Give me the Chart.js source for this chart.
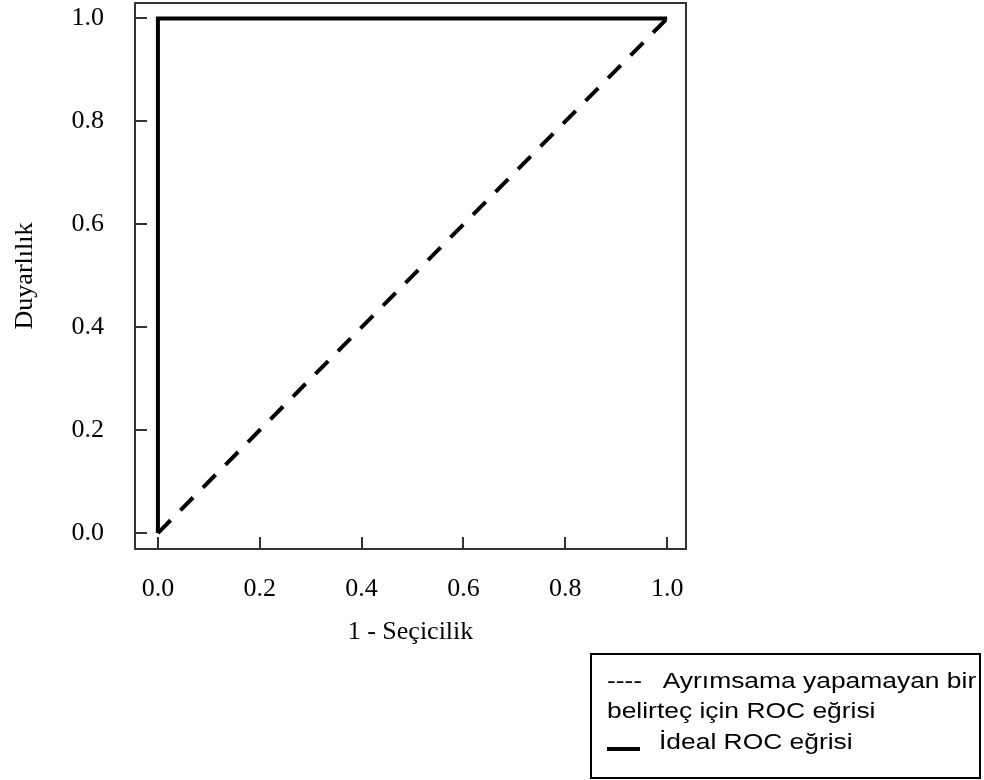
<!DOCTYPE html>
<html>
<head>
<meta charset="utf-8">
<script src="https://cdn.jsdelivr.net/npm/chart.js@4"></script>
<style>
  html, body { margin: 0; padding: 0; background: #fff; }
  #wrap { position: relative; width: 984px; height: 780px; }
  #roc { position: absolute; left: 0; top: 0; }
  .legend-box {
    position: absolute; left: 590px; top: 653px; width: 391px; height: 126px;
    border: 2px solid #000; box-sizing: border-box;
  }
  .legend-line {
    position: absolute; font-family: "Liberation Sans", Arial, sans-serif;
    font-size: 22px; line-height: 22px; color: #000; white-space: pre;
    transform: scaleX(1.2); transform-origin: left center;
  }
  .legend-bar { position: absolute; left: 607px; top: 747px; width: 33px; height: 4px; background: #000; }
</style>
</head>
<body>
<div id="wrap">
  <canvas id="roc" width="984" height="780"></canvas>
  <div class="legend-box"></div>
  <div class="legend-line" style="left:607px; top:670px;">----   Ayrımsama yapamayan bir</div>
  <div class="legend-line" style="left:607px; top:700px;">belirteç için ROC eğrisi</div>
  <div class="legend-bar"></div>
  <div class="legend-line" style="left:659px; top:731px;">İdeal ROC eğrisi</div>
</div>
<script>
// ROC curves: the ideal classifier and the useless (chance) one
var chanceX = [0, 1];
var chanceY = [0, 1];
var idealX = [0, 0, 1];
var idealY = [0, 1, 1];
var tickValues = [0, 0.2, 0.4, 0.6, 0.8, 1.0];

var serif = "'Liberation Serif', 'Times New Roman', serif";

function toPoints(xs, ys) {
    var pts = [];
    for (var i = 0; i < xs.length; i++) {
        pts.push({x: xs[i], y: ys[i]});
    }
    return pts;
}

// box around the plotting area
var frame = {
    id: 'frame',
    beforeDatasetsDraw: function(chart) {
        var a = chart.chartArea;
        var ctx = chart.ctx;
        ctx.save();
        ctx.strokeStyle = '#333';
        ctx.lineWidth = 2;
        ctx.strokeRect(a.left, a.top, a.right - a.left, a.bottom - a.top);
        ctx.restore();
    }
};

function axisOpts(min, max, title, titlePad) {
    return {
        type: 'linear',
        min: min,
        max: max,
        afterBuildTicks: function(scale) {
            scale.ticks = tickValues.map(function(v) { return {value: v}; });
        },
        border: {display: false},
        grid: {
            drawOnChartArea: false,
            drawTicks: true,
            tickLength: -12,   // ticks point into the plot
            color: '#333',
            lineWidth: 2
        },
        ticks: {
            color: '#000',
            font: {family: serif, size: 26},
            callback: function(v) { return Number(v).toFixed(1); }
        },
        title: {
            display: true,
            text: title,
            color: '#000',
            font: {family: serif, size: 26},
            padding: titlePad
        }
    };
}

var xAxis = axisOpts(-0.045, 1.037, '1 - Seçicilik', {top: 0, bottom: 132});
xAxis.ticks.padding = 37;
xAxis.afterFit = function(scale) {
    scale.height = 231;
    scale.paddingLeft = 0;
    scale.paddingRight = 0;
};

var yAxis = axisOpts(-0.031, 1.03, 'Duyarlılık', {top: 10, bottom: 0});
yAxis.ticks.padding = 43;
yAxis.afterFit = function(scale) {
    scale.width = 135;
    scale.paddingTop = 0;
    scale.paddingBottom = 0;
};

var rocChart = new Chart(document.getElementById('roc'), {
    type: 'scatter',
    data: {
        datasets: [{
            label: 'Ayrımsama yapamayan bir belirteç için ROC eğrisi',
            data: toPoints(chanceX, chanceY),
            showLine: true,
            borderColor: '#000',
            borderWidth: 4,
            borderDash: [18, 14],
            pointRadius: 0
        }, {
            label: 'İdeal ROC eğrisi',
            data: toPoints(idealX, idealY),
            showLine: true,
            borderColor: '#000',
            borderWidth: 4,
            borderJoinStyle: 'miter',
            pointRadius: 0
        }]
    },
    options: {
        responsive: false,
        animation: false,
        layout: {padding: {left: 0, top: 3, right: 298, bottom: 0}},
        plugins: {
            legend: {display: false},
            tooltip: {enabled: false}
        },
        scales: {x: xAxis, y: yAxis}
    },
    plugins: [frame]
});
</script>
</body>
</html>
